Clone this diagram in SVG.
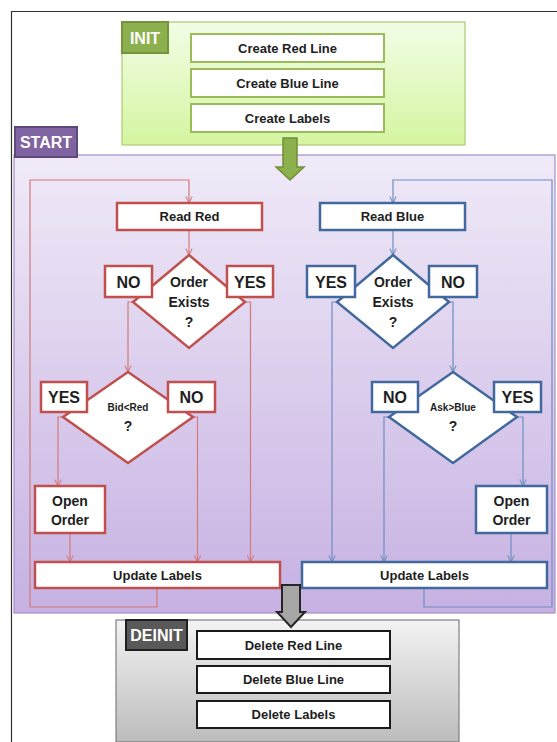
<svg xmlns="http://www.w3.org/2000/svg" width="557" height="742" viewBox="0 0 557 742">
<style>
text{font-family:"Liberation Sans",Arial,sans-serif;font-weight:bold;fill:#1e1e1e;text-anchor:middle}
.lbl{fill:#fff;font-size:16px}
.t13{font-size:13px}
.t14{font-size:14px}
.t16{font-size:16px}
.t10{font-size:10px}
.gbox{fill:#fff;stroke:#9bbb59;stroke-width:2}
.kbox{fill:#fff;stroke:#1a1a1a;stroke-width:2}
.rbox{fill:#fff;stroke:#c0504d;stroke-width:2.5}
.bbox{fill:#fff;stroke:#41699e;stroke-width:2.5}
.rc{fill:none;stroke:#d37a78;stroke-width:1.2;marker-end:url(#ar)}
.bc{fill:none;stroke:#6d8ec0;stroke-width:1.2;marker-end:url(#ab)}
</style>
<defs>
<linearGradient id="gInit" x1="0" y1="0" x2="0" y2="1"><stop offset="0" stop-color="#f1fde6"/><stop offset="1" stop-color="#d5f5a0"/></linearGradient>
<linearGradient id="gStart" x1="0" y1="0" x2="0" y2="1"><stop offset="0" stop-color="#f0eaf8"/><stop offset="1" stop-color="#c6b1e2"/></linearGradient>
<linearGradient id="gDe" x1="0" y1="0" x2="0" y2="1"><stop offset="0" stop-color="#f3f3f3"/><stop offset="1" stop-color="#bcbcbc"/></linearGradient>
<marker id="ar" viewBox="0 0 10 10" refX="9" refY="5" markerWidth="8" markerHeight="8" markerUnits="userSpaceOnUse" orient="auto"><path d="M1,1 L9,5 L1,9" fill="none" stroke="#d37a78" stroke-width="1.3"/></marker>
<marker id="ab" viewBox="0 0 10 10" refX="9" refY="5" markerWidth="8" markerHeight="8" markerUnits="userSpaceOnUse" orient="auto"><path d="M1,1 L9,5 L1,9" fill="none" stroke="#6d8ec0" stroke-width="1.3"/></marker>
</defs>
<rect width="557" height="742" fill="#fff"/>
<path d="M11.5,742 V11.5 H557" fill="none" stroke="#333" stroke-width="1.2"/>

<g id="init">
<rect x="122" y="22" width="343" height="123" fill="url(#gInit)" stroke="#a9cc73" stroke-width="1.2"/>
<rect x="122" y="22" width="46" height="31" fill="#8db04f" stroke="#76923c" stroke-width="2"/>
<text class="lbl" x="145" y="43.5">INIT</text>
</g>
<g id="create-red-line"><rect class="gbox" x="191" y="34" width="193" height="28"/><text class="t13" x="287.5" y="52.5">Create Red Line</text></g>
<g id="create-blue-line"><rect class="gbox" x="191" y="69" width="193" height="28"/><text class="t13" x="287.5" y="87.5">Create Blue Line</text></g>
<g id="create-labels"><rect class="gbox" x="191" y="104" width="193" height="28"/><text class="t13" x="287.5" y="122.5">Create Labels</text></g>

<g id="start">
<rect x="14" y="155" width="541" height="458" fill="url(#gStart)" stroke="#a58fc8" stroke-width="1.2"/>
<rect x="15" y="127" width="62" height="30" fill="#8064a2" stroke="#5f497a" stroke-width="2"/>
<text class="lbl" x="46" y="148">START</text>
</g>

<g id="connectors">
<path class="rc" d="M157,588 V607 H30 V180 H189 V203"/>
<path class="rc" d="M189,230 V255"/>
<path class="rc" d="M133,302 H128 V372"/>
<path class="rc" d="M245,302 H250.5 V562"/>
<path class="rc" d="M63,417 H58 V486"/>
<path class="rc" d="M193,417 H197.5 V562"/>
<path class="rc" d="M70,533 V562"/>
<path class="bc" d="M424,588 V607 H552 V180 H393 V203"/>
<path class="bc" d="M393,230 V255"/>
<path class="bc" d="M337,302 H332 V562"/>
<path class="bc" d="M449,302 H453 V372"/>
<path class="bc" d="M389,417 H384 V562"/>
<path class="bc" d="M517,417 H523 V486"/>
<path class="bc" d="M511,533 V562"/>
</g>

<g id="init-arrow"><path d="M283,138 H297 V167 H304 L290,180 L276,167 H283 Z" fill="#8db04f" stroke="#6f8f34" stroke-width="1.5"/></g>

<g id="read-red"><rect class="rbox" x="117" y="203" width="145" height="27"/><text class="t13" x="189.5" y="221">Read Red</text></g>
<g id="order-exists-red">
<polygon points="189,255 245,302 189,348 133,302" fill="#fff" stroke="#c0504d" stroke-width="2.5"/>
<text class="t14" x="189" y="287">Order</text><text class="t14" x="189" y="307">Exists</text><text class="t14" x="189" y="327">?</text>
</g>
<g id="red-no1"><rect class="rbox" x="105" y="266" width="47" height="31"/><text class="t16" x="128.5" y="287.5">NO</text></g>
<g id="red-yes1"><rect class="rbox" x="227" y="266" width="46" height="31"/><text class="t16" x="250" y="287.5">YES</text></g>
<g id="bid-red">
<polygon points="128,372 193,417 128,463 63,417" fill="#fff" stroke="#c0504d" stroke-width="2.5"/>
<text class="t10" x="128" y="411">Bid&lt;Red</text><text class="t14" x="128" y="431">?</text>
</g>
<g id="red-yes2"><rect class="rbox" x="41" y="382" width="46" height="30"/><text class="t16" x="64" y="403">YES</text></g>
<g id="red-no2"><rect class="rbox" x="168" y="382" width="47" height="30"/><text class="t16" x="191.5" y="403">NO</text></g>
<g id="open-order-red"><rect class="rbox" x="35" y="486" width="70" height="47"/><text class="t14" x="70" y="506">Open</text><text class="t14" x="70" y="525">Order</text></g>
<g id="update-labels-red"><rect class="rbox" x="35" y="562" width="245" height="26"/><text class="t13" x="157.5" y="580">Update Labels</text></g>

<g id="read-blue"><rect class="bbox" x="320" y="203" width="145" height="27"/><text class="t13" x="392.5" y="221">Read Blue</text></g>
<g id="order-exists-blue">
<polygon points="393,255 449,302 393,348 337,302" fill="#fff" stroke="#41699e" stroke-width="2.5"/>
<text class="t14" x="393" y="287">Order</text><text class="t14" x="393" y="307">Exists</text><text class="t14" x="393" y="327">?</text>
</g>
<g id="blue-yes1"><rect class="bbox" x="307" y="266" width="48" height="31"/><text class="t16" x="331" y="287.5">YES</text></g>
<g id="blue-no1"><rect class="bbox" x="429" y="266" width="48" height="31"/><text class="t16" x="453" y="287.5">NO</text></g>
<g id="ask-blue">
<polygon points="453,372 517,417 453,463 389,417" fill="#fff" stroke="#41699e" stroke-width="2.5"/>
<text class="t10" x="453" y="411">Ask&gt;Blue</text><text class="t14" x="453" y="431">?</text>
</g>
<g id="blue-no2"><rect class="bbox" x="372" y="382" width="46" height="30"/><text class="t16" x="395" y="403">NO</text></g>
<g id="blue-yes2"><rect class="bbox" x="494" y="382" width="47" height="30"/><text class="t16" x="517.5" y="403">YES</text></g>
<g id="open-order-blue"><rect class="bbox" x="476" y="486" width="71" height="47"/><text class="t14" x="511.5" y="506">Open</text><text class="t14" x="511.5" y="525">Order</text></g>
<g id="update-labels-blue"><rect class="bbox" x="302" y="562" width="245" height="26"/><text class="t13" x="424.5" y="580">Update Labels</text></g>

<g id="deinit">
<rect x="116" y="620" width="343" height="122" fill="url(#gDe)" stroke="#7f7f7f" stroke-width="1.2"/>
<rect x="126" y="620" width="61" height="30" fill="#595959" stroke="#1f1f1f" stroke-width="2"/>
<text class="lbl" x="156.5" y="641">DEINIT</text>
</g>
<g id="delete-red-line"><rect class="kbox" x="197" y="631" width="193" height="28"/><text class="t13" x="293.5" y="649.5">Delete Red Line</text></g>
<g id="delete-blue-line"><rect class="kbox" x="197" y="666" width="193" height="27"/><text class="t13" x="293.5" y="684">Delete Blue  Line</text></g>
<g id="delete-labels"><rect class="kbox" x="197" y="701" width="193" height="27"/><text class="t13" x="293.5" y="719">Delete Labels</text></g>

<g id="deinit-arrow"><path d="M282,585 H300 V612 H305 L291,627 L277,612 H282 Z" fill="#a6a6a6" stroke="#262626" stroke-width="2"/></g>
</svg>
